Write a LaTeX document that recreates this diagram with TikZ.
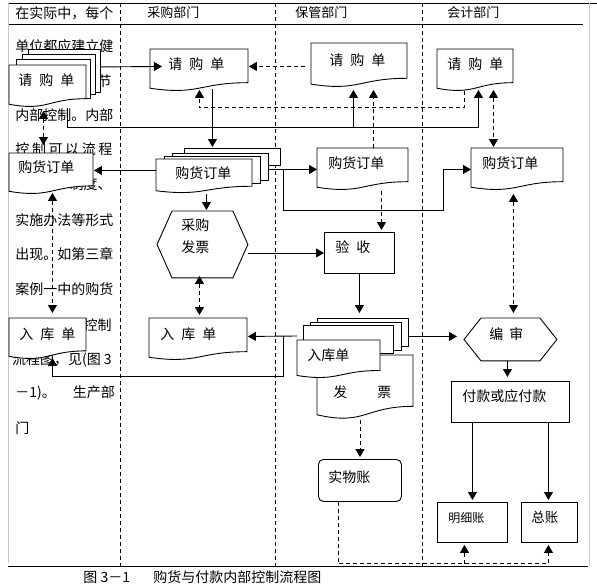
\documentclass[tikz,border=0pt]{standalone}
\usepackage{fontspec}
\setmainfont{Noto Sans CJK SC}
\usetikzlibrary{arrows.meta}

\newcommand\gapk{\kern7pt\relax}
\newcommand\lsp{\kern2.6pt\relax}

% document sheet with a wavy foot: name, x, y, width, height, margin, baseline, text
\newcommand\docnode[8]{%
  \pgfmathsetmacro\dxr{#2+#4}%
  \pgfmathsetmacro\dxm{#2+0.5*#4}%
  \pgfmathsetmacro\dyr{#3+0.802*#5}%
  \pgfmathsetmacro\dyc{#3+1.107*#5}%
  \pgfmathsetmacro\dyl{#3+0.934*#5}%
  \pgfmathsetmacro\dtw{#4-2*#6}%
  \pgfmathsetmacro\dtd{#5-#7}%
  \filldraw[fill=white] (#2,#3) -- (\dxr,#3) -- (\dxr,\dyr)
    .. controls (\dxm,\dyr) and (\dxm,\dyc) .. (#2,\dyl) -- cycle;
  \node[wbox, inner xsep=#6pt, text width=\dtw pt, text height=#7pt, text depth=\dtd pt] (#1) at (#2,#3) {#8};}

% hexagon round a node: name, chamfer
\newcommand\hexpath[2]{%
  \draw (#1.west) -- ([xshift=#2]#1.north west) -- ([xshift=-#2]#1.north east)
    -- (#1.east) -- ([xshift=-#2]#1.south east) -- ([xshift=#2]#1.south west) -- cycle;}

\tikzset{
  Tri/.tip={Triangle[length=8pt,width=9pt]},
  lane/.style={dash pattern=on 4pt off 3pt},
  arr/.style={-Tri},
  darr/.style={arr, dash pattern=on 4pt off 3pt},
  dbl/.style={darr, Tri-Tri},
  sheet/.style={draw, fill=white, inner sep=0pt, anchor=north west},
  wbox/.style={anchor=north west, inner ysep=0pt, align=left, text height=20pt},
  box/.style={wbox, draw, fill=white},
  para/.style={inner sep=0pt, anchor=west},
}

\begin{document}
\begin{tikzpicture}[x=1pt, y=-1pt, line width=0.9pt,
  every node/.append style={font=\fontsize{14pt}{17pt}\selectfont}]
    \useasboundingbox (0,0) rectangle (597,586);
    \fill[white] (0,0) rectangle (597,586);

    % Frame
    \draw (8,3) -- (597,3);
    \draw (8,24) -- (583,24);
    \draw (8,566) -- (588,566);
    \draw[gray!45] (8,3) -- (8,563);
    \draw[gray!45] (589,3) -- (589,566);

    % Lanes
    \draw[lane] (120,3) -- (120,566);
    \draw[lane] (275,3) -- (275,566);
    \draw[lane] (422,3) -- (422,566);

    % Headings
    \node[para, font=\fontsize{13pt}{16pt}\selectfont] (hd1) at (147,13) {采购部门};
    \node[para, font=\fontsize{13pt}{16pt}\selectfont] (hd2) at (295,13) {保管部门};
    \node[para, font=\fontsize{13pt}{16pt}\selectfont] (hd3) at (447,13) {会计部门};

    % Running text of the first column
    \node[para] (lt1) at (15,13) {在实际中，每个};
    \node[para] (lt2) at (15,46) {单位都应建立健};
    \node[para, anchor=east] (lt3) at (112,81) {节};
    \node[para] (lt4) at (15,115) {内部控制。内部};
    \node[para] (lt5) at (15,149) {控\lsp 制\lsp 可\lsp 以\lsp 流\lsp 程};
    \node[para, anchor=east] (lt6) at (112,184) {图、制度、};
    \node[para] (lt7) at (15,220) {实施办法等形式};
    \node[para] (lt8) at (15,254) {出现。如第三章};
    \node[para] (lt9) at (15,289) {案例一中的购货};
    \node[para, anchor=east] (lt10) at (112,325) {控制};
    \node[para, anchor=east] (lt11) at (112,360) {流程图，见(图\kern3pt 3};
    \node[para] (lt12) at (15,393) {－1)。\kern17pt 生产部};
    \node[para] (lt13) at (15,428) {门};

    % Purchase requisitions
    \node[sheet, minimum width=72, minimum height=43] (qg0c) at (28,49) {};
    \node[sheet, minimum width=73, minimum height=40] (qg0b) at (22,54) {};
    \node[sheet, minimum width=74, minimum height=39] (qg0a) at (16,59) {};
    \docnode{qg0}{9}{65}{77}{42}{9}{20}{请\gapk 购\gapk 单}
    \docnode{qg1}{150}{49}{98}{42}{18}{20}{请\gapk 购\gapk 单}
    \docnode{qg2}{311}{43}{96}{44}{18}{22}{请\gapk 购\gapk 单}
    \docnode{qg3}{437}{49}{76}{42}{10}{20}{请\gapk 购\gapk 单}

    % Purchase orders
    \docnode{gh0}{9}{153}{84}{41}{9}{19}{购货订单}
    \node[sheet, minimum width=96, minimum height=17] (gh1c) at (184,148) {};
    \node[sheet, minimum width=96, minimum height=27] (gh1b) at (172,153) {};
    \node[sheet, minimum width=96, minimum height=27] (gh1a) at (164,156) {};
    \docnode{gh1}{156}{159}{96}{34}{19}{19}{购货订单}
    \docnode{gh2}{317}{148}{91}{42}{11}{20}{购货订单}
    \docnode{gh3}{471}{148}{92}{42}{11}{20}{购货订单}

    % Invoice, check and receipts
    \node[wbox, inner xsep=24pt, text width=42pt, text height=19.5pt, text depth=46.5pt,
      font=\fontsize{14pt}{22pt}\selectfont] (cgfp) at (157,211) {采购\\发票};
    \hexpath{cgfp}{15pt}
    \node[box, inner xsep=11pt, text width=48pt, text depth=21pt] (ys) at (324,232) {验\gapk 收};
    \docnode{rk0}{9}{318}{77}{41}{10}{21}{入\gapk 库\gapk 单}
    \docnode{rk1}{149}{318}{98}{42}{11}{21}{入\gapk 库\gapk 单}
    \node[sheet, minimum width=91, minimum height=28] (rk2c) at (317,318) {};
    \node[sheet, minimum width=91, minimum height=28] (rk2b) at (310,322) {};
    \node[sheet, minimum width=90, minimum height=28] (rk2a) at (303,325) {};
    \docnode{fp2}{317}{355}{96}{64}{16}{42}{发\kern30pt 票}
    \docnode{rk2}{297}{340}{83}{38}{10}{20}{入库单}

    % Accounting
    \node[wbox, inner xsep=25pt, text width=42pt, text height=21pt, text depth=21pt] (bs) at (464,318) {编\kern6pt 审};
    \hexpath{bs}{17pt}
    \node[box, inner xsep=11pt, text width=96pt, text depth=21pt] (fk) at (451,381) {付款或应付款};
    \node[box, inner xsep=11pt, text width=48pt, text depth=20pt,
      font=\fontsize{12pt}{14pt}\selectfont] (mxz) at (437,502) {明细账};
    \node[box, inner xsep=10pt, text width=36pt, text depth=20pt,
      font=\fontsize{13.5pt}{16pt}\selectfont] (zz) at (521,502) {总账};
    \node[box, rounded corners=5pt, inner xsep=10pt, text width=63pt, text height=23pt,
      text depth=19pt] (swz) at (318,459) {实物账};

    % Requisition copies
    \draw[arr] ([yshift=4pt]qg0c.east) -- ([xshift=12pt,yshift=4pt]qg1.west);
    \draw[darr] ([xshift=-6pt,yshift=-1pt]qg2.west) -- ([yshift=4pt]qg1.east);
    \draw[darr] ([xshift=-11pt,yshift=1pt]qg3.south) -- ++(0,17) -| ([yshift=2pt]qg1.south);
    \draw[arr] ([xshift=19pt]qg0.south) -- ++(0,20) coordinate (bus) -| ([xshift=3pt,yshift=2pt]qg3.south);
    \draw[arr] ([xshift=-6pt]qg2.south |- bus) -- ([xshift=-6pt,yshift=-2pt]qg2.south);
    \draw[darr] ([xshift=10.5pt]gh2.north) -- ([xshift=14pt,yshift=-2pt]qg2.south);
    \draw[dbl] ([xshift=18pt,yshift=2pt]qg3.south) -- ([xshift=-24pt,yshift=1pt]gh3.north);
    \draw[dbl] ([xshift=-4.5pt,yshift=-3pt]qg0.south) -- ([xshift=-8pt,yshift=8pt]gh0.north);

    % Order copies
    \draw[arr] ([xshift=13pt,yshift=3pt]qg1.south) -- ([xshift=-20pt,yshift=1pt]gh1c.north);
    \draw[arr] ([yshift=6pt]gh1.west) -- ([yshift=3.5pt]gh0.east);
    \draw[arr] ([yshift=-2.5pt]gh1b.east) -- (gh2.west);
    \draw[arr] ([xshift=15pt,yshift=-2.5pt]gh1b.east) -- ++(0,41) -| ([xshift=-28pt]gh3.west) -- (gh3.west);
    \draw[arr] ([xshift=2pt]gh1.south) -- ([xshift=4pt,yshift=1pt]cgfp.north);
    \draw[dbl] ([xshift=1pt,yshift=2pt]gh0.south) -- ([xshift=4.5pt,yshift=5pt]rk0.north);
    \draw[darr] ([xshift=18.5pt]gh2.south) -- ([xshift=22pt,yshift=2pt]ys.north);
    \draw[dbl] ([xshift=-4pt,yshift=-3pt]gh3.south) -- ([xshift=3pt,yshift=5pt]bs.north);

    % Goods received
    \draw[arr] (cgfp.east |- ys.west) -- (ys.west);
    \draw[dbl] ([xshift=-3pt,yshift=2pt]cgfp.south) -- ([xshift=1pt,yshift=3pt]rk1.north);
    \draw[arr] (ys.south) -- ([xshift=-3.5pt,yshift=5pt]rk2c.north);
    \draw[arr] ([yshift=4pt]rk2.north west) -- ([yshift=3pt]rk1.east);
    \draw[arr] ([xshift=-14pt,yshift=4pt]rk2.north west) -- ++(0,40) -| ([xshift=4.5pt,yshift=2pt]rk0.south);
    \draw[arr] ([yshift=-4pt]rk2c.east) -- ([xshift=-7pt,yshift=3pt]bs.west);

    % Payment and ledgers
    \draw[arr] ([xshift=-3pt]bs.south) -- ([xshift=-3pt,yshift=4pt]fk.north);
    \draw[arr] (mxz.north |- fk.south) -- ([yshift=2pt]mxz.north);
    \draw[arr] ([xshift=-1pt]zz.north |- fk.south) -- ([xshift=-1pt,yshift=2pt]zz.north);
    \draw[darr] (swz.north |- fp2.south) -- ([yshift=2pt]swz.north);
    \draw[darr] ([xshift=-21.5pt]swz.south) -- ++(0,62) coordinate (post) -| ([xshift=-1pt,yshift=-2pt]zz.south);
    \draw[darr] ([xshift=-8pt]mxz.south |- post) -- ([xshift=-8pt,yshift=-2pt]mxz.south);

    % Caption
    \node[para] (cap1) at (83,577) {图 3－1};
    \node[para] (cap2) at (153,577) {购货与付款内部控制流程图};
\end{tikzpicture}
\end{document}
